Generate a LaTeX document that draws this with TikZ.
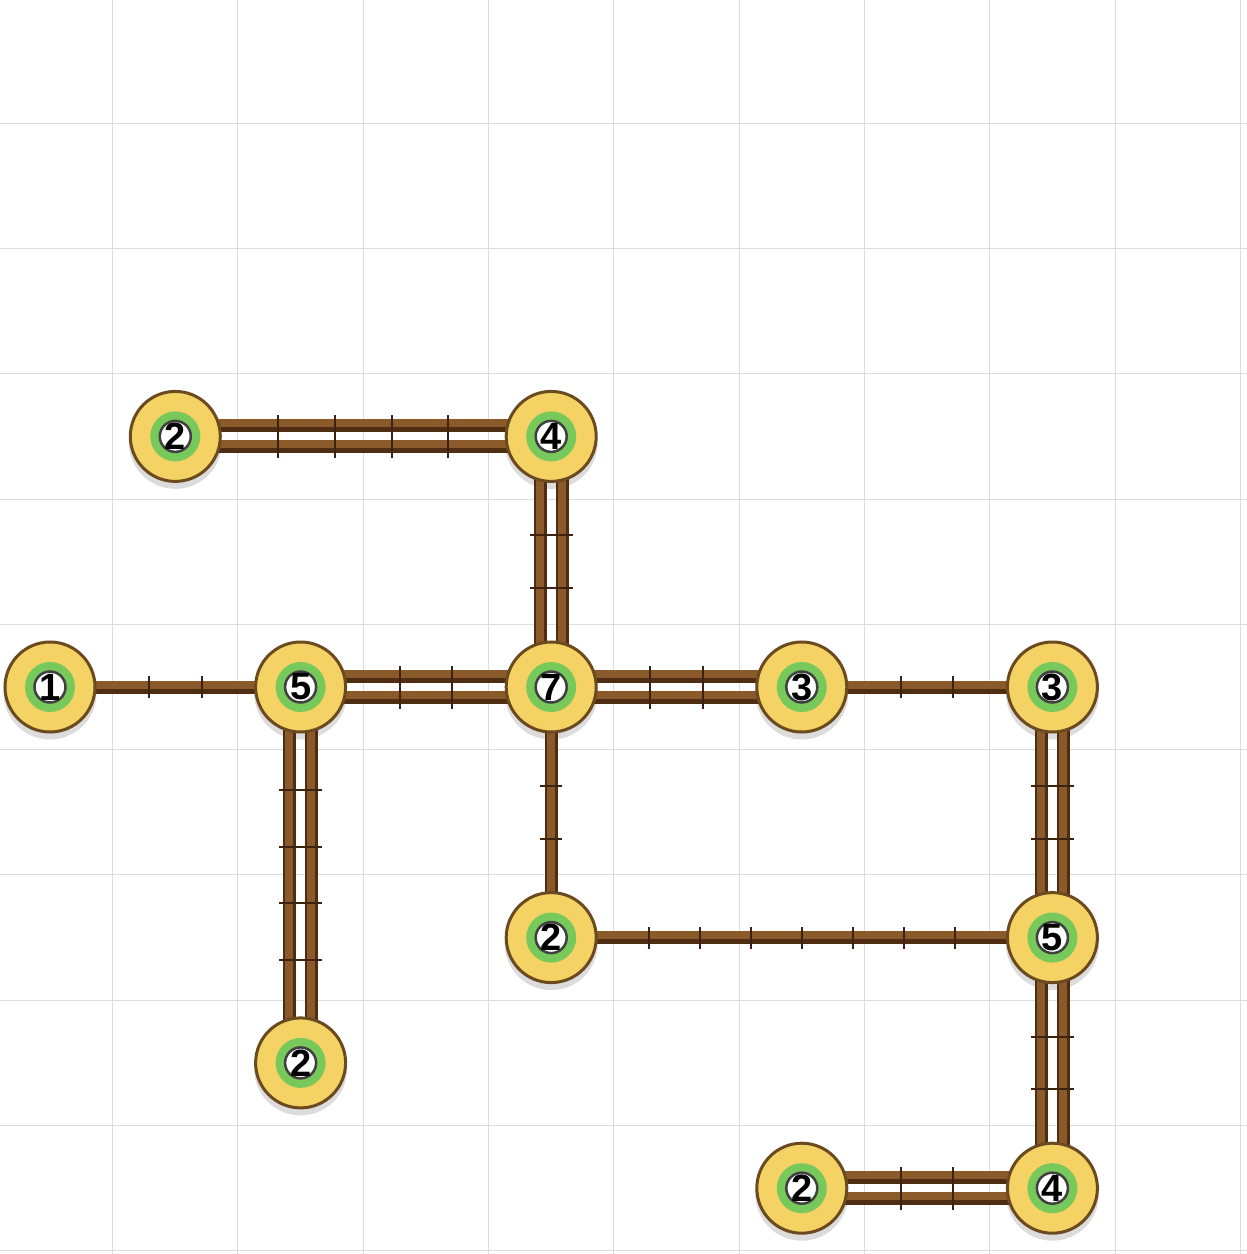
\documentclass[tikz,border=0pt]{standalone}
\usepackage{fontspec}
\setmainfont{Liberation Sans}
\usetikzlibrary{backgrounds}

\definecolor{islandfill}{HTML}{F4D263}
\definecolor{islandrim}{HTML}{6B4A1F}
\definecolor{ringgreen}{HTML}{78C95C}
\definecolor{innerrim}{HTML}{404040}
\definecolor{plankdark}{HTML}{4F2D12}
\definecolor{planklight}{HTML}{8B5A2B}
\definecolor{tickbrown}{HTML}{3D2210}
\definecolor{gridgray}{HTML}{DDDDDD}
\definecolor{shadowgray}{HTML}{DCDCDC}

% planks: dark body with a lighter top
\newcommand{\hplank}[3]{%
  \draw[plankdark, line width=13pt] ([yshift=#3]#1.center) -- ([yshift=#3]#2.center);
  \draw[planklight, line width=8pt] ([yshift=#3+2.5pt]#1.center) -- ([yshift=#3+2.5pt]#2.center);
}
\newcommand{\vplank}[3]{%
  \draw[plankdark, line width=13pt] ([xshift=#3]#1.center) -- ([xshift=#3]#2.center);
  \draw[planklight, line width=8pt] ([xshift=#3-0.5pt]#1.center) -- ([xshift=#3-0.5pt]#2.center);
}
% cross ticks, evenly spread between the rims
\newcommand{\planks}[4]{%
  \path (#1) -- (#2) foreach \k [evaluate=\k as \p using \k/(#3+1)] in {1,...,#3} {node[#4, pos=\p] {}};
}

\begin{document}
\begin{tikzpicture}[x=125.3pt, y=125.3pt]

    % Define styles
    \tikzset{
        island/.style={
            circle, minimum size=90pt, inner sep=0pt,
            draw=islandrim, line width=3pt, fill=islandfill,
            font=\fontsize{38pt}{38pt}\selectfont\bfseries,
            path picture={
                \fill[ringgreen] (path picture bounding box.center) circle (25pt);
                \filldraw[fill=white, draw=innerrim, line width=2.5pt]
                    (path picture bounding box.center) circle (15.5pt);
            }
        },
        tickshort/.style={rectangle, inner sep=0pt, minimum width=2pt,
            minimum height=22pt, fill=tickbrown, sloped},
        ticklong/.style={tickshort, minimum height=43pt},
        gridline/.style={draw=gridgray, line width=1pt}
    }

    \useasboundingbox (-50pt,-567pt) rectangle (1197pt,687pt);

    % Islands
    \node[island] (left1)  at (0,0)  {1};
    \node[island] (top2)   at (1,2)  {2};
    \node[island] (top4)   at (4,2)  {4};
    \node[island] (mid5)   at (2,0)  {5};
    \node[island] (mid7)   at (4,0)  {7};
    \node[island] (mid3)   at (6,0)  {3};
    \node[island] (right3) at (8,0)  {3};
    \node[island] (low2)   at (4,-2) {2};
    \node[island] (right5) at (8,-2) {5};
    \node[island] (bot2)   at (2,-3) {2};
    \node[island] (foot2)  at (6,-4) {2};
    \node[island] (foot4)  at (8,-4) {4};

    \begin{scope}[on background layer]
        % Grid
        \foreach \i in {0,...,9}
            \draw[gridline] (\i+0.5,-4.6) -- (\i+0.5,5.6);
        \foreach \j in {-5,...,4}
            \draw[gridline] (-0.5,\j+0.5) -- (9.6,\j+0.5);

        % Shadows
        \foreach \n in {left1,top2,top4,mid5,mid7,mid3,right3,low2,right5,bot2,foot2,foot4}
            \fill[shadowgray] ([yshift=-6pt]\n.center) circle (46.5pt);

        % Single bridges
        \hplank{left1}{mid5}{0pt}  \planks{left1}{mid5}{2}{tickshort}
        \hplank{mid3}{right3}{0pt} \planks{mid3}{right3}{2}{tickshort}
        \hplank{low2}{right5}{0pt} \planks{low2}{right5}{7}{tickshort}
        \vplank{mid7}{low2}{0pt}   \planks{mid7}{low2}{2}{tickshort}

        % Double bridges
        \hplank{top2}{top4}{10.5pt}  \hplank{top2}{top4}{-10.5pt}  \planks{top2}{top4}{4}{ticklong}
        \hplank{mid5}{mid7}{10.5pt}  \hplank{mid5}{mid7}{-10.5pt}  \planks{mid5}{mid7}{2}{ticklong}
        \hplank{mid7}{mid3}{10.5pt}  \hplank{mid7}{mid3}{-10.5pt}  \planks{mid7}{mid3}{2}{ticklong}
        \hplank{foot2}{foot4}{10.5pt} \hplank{foot2}{foot4}{-10.5pt} \planks{foot2}{foot4}{2}{ticklong}
        \vplank{top4}{mid7}{-11pt}   \vplank{top4}{mid7}{11pt}     \planks{top4}{mid7}{2}{ticklong}
        \vplank{mid5}{bot2}{-11pt}   \vplank{mid5}{bot2}{11pt}     \planks{mid5}{bot2}{4}{ticklong}
        \vplank{right3}{right5}{-11pt} \vplank{right3}{right5}{11pt} \planks{right3}{right5}{2}{ticklong}
        \vplank{right5}{foot4}{-11pt} \vplank{right5}{foot4}{11pt} \planks{right5}{foot4}{2}{ticklong}
    \end{scope}

\end{tikzpicture}
\end{document}
